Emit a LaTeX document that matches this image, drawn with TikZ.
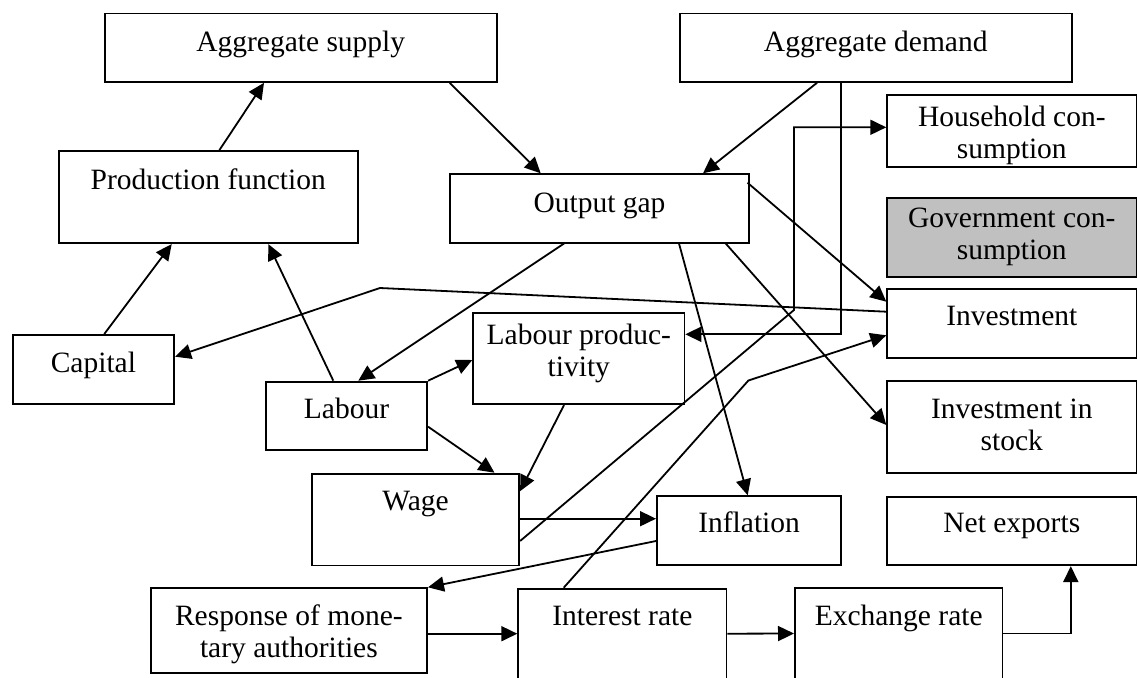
\documentclass[tikz,border=0pt]{standalone}
\usepackage{fontspec}
\setmainfont{Liberation Serif}
\usetikzlibrary{arrows.meta,calc}

\definecolor{govgray}{RGB}{192,192,192}

% box text: width, height, first baseline from top, text (top aligned, centred)
\newcommand\bxt[4]{\parbox[c][#2][t]{#1}{\centering\rule{0pt}{#3}#4}}

\tikzset{
  box/.style={draw, line width=1.8pt, fill=white, inner sep=0pt, anchor=north west,
              font={\fontsize{29.5}{32}\selectfont}},
  govbox/.style={box, fill=govgray},
  conn/.style={line width=1.8pt, -{Triangle[length=16pt,width=15pt]}},
}

\begin{document}
\begin{tikzpicture}[x=1pt,y=-1pt]
\clip (0,0) rectangle (1137,677);

% top row
\node[box] (as) at (104,12.7) {\bxt{391.7pt}{68.3pt}{38pt}{Aggregate supply}};
\node[box] (ad) at (679,12.7) {\bxt{391.7pt}{68.3pt}{38pt}{Aggregate demand}};

% supply side
\node[box] (pf)  at (58,150.3)  {\bxt{298.7pt}{92pt}{38pt}{Production function}};
\node[box] (cap) at (11.7,334)  {\bxt{161.6pt}{69.3pt}{37.7pt}{Capital}};
\node[box] (lab) at (265,380.7) {\bxt{161.3pt}{68.3pt}{37pt}{Labour}};
\node[box] (lp)  at (472.3,312.3) {\bxt{211.2pt}{91pt}{31.7pt}{Labour produc-\\tivity}};
\node[box] (wage) at (311,472.7) {\bxt{207.3pt}{91.8pt}{36.7pt}{Wage}};

% output gap and prices
\node[box] (og)   at (449,173.3) {\bxt{299.2pt}{68.4pt}{38.4pt}{Output gap}};
\node[box] (infl) at (656,495.3) {\bxt{184.4pt}{69pt}{36.4pt}{Inflation}};

% demand components
\node[box]    (hc)  at (886.3,94.3)  {\bxt{249.2pt}{71.4pt}{31.7pt}{Household con-\\sumption}};
\node[govbox] (gc)  at (886.3,196.7) {\bxt{249.2pt}{79pt}{30pt}{Government con-\\sumption}};
\node[box]    (inv) at (886.3,288.3) {\bxt{249.2pt}{69pt}{36.7pt}{Investment}};
\node[box]    (iis) at (886.3,380.3) {\bxt{249.2pt}{92pt}{37.4pt}{Investment in\\stock}};
\node[box]    (nx)  at (886.3,495.7) {\bxt{249.2pt}{68.6pt}{36pt}{Net exports}};

% monetary block
\node[box] (resp) at (149.8,587.3) {\bxt{276.4pt}{84.4pt}{37.7pt}{Response of mone-\\tary authorities}};
\node[box] (ir)   at (517.3,587.7) {\bxt{208.3pt}{112pt}{36.6pt}{Interest rate}};
\node[box] (er)   at (794,587.3)   {\bxt{207.6pt}{112pt}{37.7pt}{Exchange rate}};

% bend points
\coordinate (k1) at (380,288);
\coordinate (k2) at (794,310);
\coordinate (k3) at (748.4,380.5);

% connectors
\draw[conn] ($(pf.north west)+(161.3,0)$) -- ($(as.south west)+(160,0)$);
\draw[conn] ($(as.south west)+(345.7,0)$) -- ($(og.north west)+(91.7,0)$);
\draw[conn] ($(ad.south west)+(138,0)$) -- ($(og.north west)+(254,0)$);
\draw[conn] ($(ad.south west)+(161.7,0)$) |- ($(lp.north east)+(0,22)$);
\draw[conn] ($(og.north east)+(-2.5,9.4)$) -- ($(inv.north west)+(0,13.4)$);
\draw[conn] ($(og.south west)+(115,0)$) -- ($(lab.north west)+(93.3,0)$);
\draw[conn] ($(og.south west)+(230,0)$) -- ($(infl.north west)+(91.7,0)$);
\draw[conn] ($(og.south west)+(276.7,0)$) -- ($(iis.north west)+(0,44.7)$);
\draw[conn] ($(inv.north west)+(0,23.4)$) -- (k1) -- ($(cap.north east)+(0,22.7)$);
\draw[conn] ($(cap.north west)+(92.6,0)$) -- ($(pf.south west)+(113.7,0)$);
\draw[conn] ($(lab.north west)+(68.3,0)$) -- ($(pf.south west)+(210.3,0)$);
\draw[conn] (lab.north east) -- ($(lp.north west)+(0,47.7)$);
\draw[conn] ($(lab.north east)+(0,46)$) -- ($(wage.north west)+(183.5,0)$);
\draw[conn] ($(lp.south west)+(91.7,0)$) -- ($(wage.north east)+(0,18.5)$);
\draw[conn] ($(wage.north east)+(0,46)$) -- ($(infl.north west)+(0,23.4)$);
\draw[conn] ($(wage.north east)+(0,68.3)$) -- (k2) |- ($(hc.north west)+(0,33)$);
\draw[conn] ($(infl.north west)+(0,45.7)$) -- (resp.north east);
\draw[conn] ($(resp.north east)+(0,46.4)$) -- ($(ir.north west)+(0,46)$);
\draw[conn] ($(ir.north west)+(46.4,0)$) -- (k3) -- ($(inv.north west)+(0,47)$);
\draw[conn] ($(ir.north east)+(0,46)$) -- ($(er.north west)+(0,46.2)$);
\draw[conn] ($(er.north east)+(0,46.2)$) -| ($(nx.south west)+(184.5,0)$);
\end{tikzpicture}
\end{document}
